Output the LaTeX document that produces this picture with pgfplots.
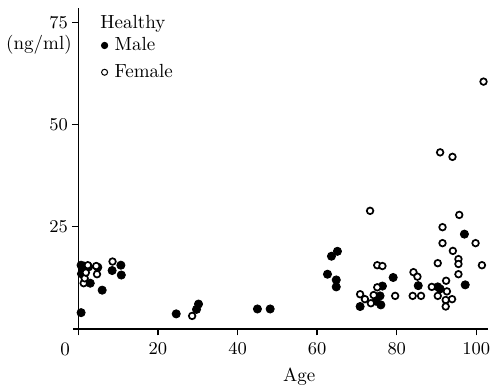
\documentclass[border=0pt]{standalone}
\usepackage{pgfplots}
\pgfplotsset{compat=1.18}
\begin{document}
\begin{tikzpicture}[font=\fontsize{9.5}{11.4}\selectfont]
\begin{axis}[
  scale only axis, width=205pt, height=160.5pt,
  xmin=0, xmax=103, ymin=0, ymax=78.5,
  axis x line=bottom, axis y line=left,
  axis line style={-, line width=0.8pt, black},
  tick align=outside, major tick length=3.2pt,
  tick style={line width=0.7pt, black},
  xtick={20,40,60,80,100},
  extra x ticks={0}, extra x tick labels={0},
  extra x tick style={xticklabel style={xshift=-6.6pt}},
  ytick={25,50,75},
  yticklabel style={xshift=1.5pt},
  xlabel={Age},
  xlabel style={at={(rel axis cs:0.539,0)}, anchor=center, yshift=-23.8pt},
  clip=false,
  legend style={at={(axis cs:5.6,72.0)}, anchor=north west, draw=none, fill=none,
    inner sep=0pt, row sep=2.9pt, nodes={inner sep=1.2pt}},
  legend cell align=left,
]
\addplot[only marks, mark=*, mark size=2.05pt, mark options={fill=black, draw=black}, forget plot] coordinates {
(0.7,4.0) (0.7,15.6) (1.4,15.4) (0.8,13.5) (1.2,14.6) (2.6,15.2) (3.0,11.2)
(4.9,15.1) (6.0,9.5) (8.5,14.3) (10.7,15.6) (10.8,13.2)
(24.6,3.7) (29.7,4.8) (30.2,6.1) (45.0,4.9) (48.2,4.9)
(62.6,13.4) (63.6,17.8) (65.1,19.0) (64.8,12.0) (64.8,10.3)
(70.8,5.5) (74.8,6.8) (75.8,8.1) (76.0,5.9) (76.4,10.5) (79.1,12.6)
(85.4,10.6) (90.3,10.3) (90.9,9.8) (97.0,23.2) (97.2,10.8)
};
\addplot[only marks, mark=*, mark size=1.65pt, mark options={fill=white, draw=black, line width=0.85pt}, forget plot] coordinates {
(1.35,11.2) (1.6,12.4) (1.9,13.8) (2.4,15.6) (4.5,15.4) (4.7,13.4) (8.6,16.5)
(28.6,3.2)
(70.8,8.5) (72.0,7.3) (73.3,28.9) (73.5,6.3) (74.2,8.3) (75.1,10.2) (75.1,15.6) (76.4,15.4)
(79.6,8.1) (84.0,8.1) (84.2,13.9) (85.2,12.8) (86.1,8.1) (88.8,10.3)
(90.3,16.1) (90.3,8.1) (90.9,43.2) (91.5,24.9) (91.5,21.0) (92.4,11.8) (92.6,9.2)
(92.3,7.1) (92.3,5.5) (93.9,7.3) (94.0,42.1) (94.1,19.1) (95.5,17.1) (95.5,15.9)
(95.5,13.4) (95.7,27.9) (99.8,21.0) (101.4,15.6) (101.8,60.5)
};
\addlegendimage{legend image code/.code={\fill[black] (0pt,0pt) circle (1.6pt); \path (-1.6pt,0pt) (3.2pt,0pt);}}
\addlegendentry{Male}
\addlegendimage{legend image code/.code={\draw[black, line width=0.5pt] (0pt,0pt) circle (1.5pt); \path (-1.6pt,0pt) (3.6pt,0pt);}}
\addlegendentry{Female}
\node[anchor=west, inner sep=0pt] at (axis cs:5.45,74.6) {Healthy};
\node[anchor=east, inner sep=0pt] at (axis cs:0,75) [xshift=-3.1pt, yshift=-11.4pt] {(ng/ml)};
\draw[line width=0.8pt] (axis cs:0,0) -- ++(-2.8pt,0pt);
\end{axis}
\pgfresetboundingbox
\path (-39.15pt,-29pt) rectangle (209.85pt,164.5pt);
\end{tikzpicture}
\end{document}
